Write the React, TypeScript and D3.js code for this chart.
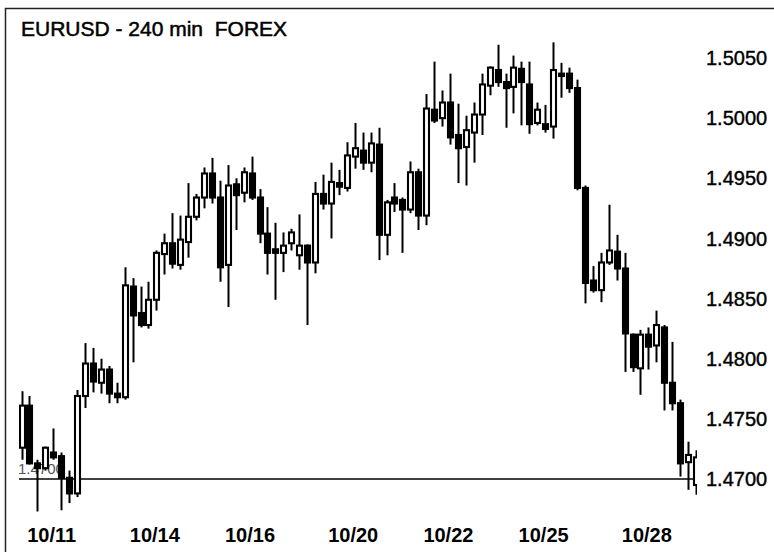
import React from "react";
import * as d3 from "d3";

const title = "EURUSD - 240 min  FOREX";

const opens = [
  1.4726, 1.4761, 1.4713, 1.4709, 1.4722, 1.4719, 1.4701, 1.4688, 1.4769, 1.4796,
  1.4780, 1.4791, 1.4771, 1.4768, 1.4860, 1.4838, 1.4828, 1.4849, 1.4887, 1.4896,
  1.4878, 1.4897, 1.4918, 1.4934, 1.4954, 1.4934, 1.4878, 1.4945, 1.4938, 1.4954,
  1.4934, 1.4904, 1.4891, 1.4888, 1.4896, 1.4886, 1.4894, 1.4880, 1.4937, 1.4929,
  1.4946, 1.4942, 1.4968, 1.4973, 1.4963, 1.4978, 1.4903, 1.4934, 1.4932, 1.4924,
  1.4955, 1.4919, 1.5007, 1.5000, 1.5013, 1.4986, 1.4976, 1.4988, 1.5003, 1.5027,
  1.5040, 1.5030, 1.5026, 1.5041, 1.5028, 1.4996, 1.4995, 1.4993, 1.5037, 1.5037,
  1.5025, 1.4942, 1.4865, 1.4857, 1.4880, 1.4889, 1.4875, 1.4820, 1.4792, 1.4820,
  1.4811, 1.4826, 1.4780, 1.4763, 1.4714, 1.4695,
];
const highs = [
  1.4773, 1.4769, 1.4716, 1.4727, 1.4742, 1.4722, 1.4707, 1.4774, 1.4813, 1.4809,
  1.4800, 1.4794, 1.4780, 1.4876, 1.4867, 1.4860, 1.4864, 1.4890, 1.4904, 1.4921,
  1.4919, 1.4946, 1.4937, 1.4959, 1.4967, 1.4948, 1.4961, 1.4950, 1.4959, 1.4968,
  1.4941, 1.4926, 1.4913, 1.4905, 1.4908, 1.4920, 1.4895, 1.4947, 1.4953, 1.4963,
  1.4957, 1.4980, 1.4996, 1.4988, 1.4988, 1.4992, 1.4932, 1.4946, 1.4934, 1.4964,
  1.4958, 1.5020, 1.5047, 1.5023, 1.5037, 1.5012, 1.5002, 1.5013, 1.5037, 1.5043,
  1.5061, 1.5037, 1.5052, 1.5047, 1.5047, 1.5013, 1.5011, 1.5063, 1.5046, 1.5042,
  1.5032, 1.4944, 1.4877, 1.4888, 1.4928, 1.4903, 1.4888, 1.4821, 1.4824, 1.4826,
  1.4840, 1.4828, 1.4814, 1.4766, 1.4731, 1.4724,
];
const lows = [
  1.4716, 1.4712, 1.4673, 1.4707, 1.4716, 1.4674, 1.4680, 1.4685, 1.4759, 1.4772,
  1.4771, 1.4763, 1.4763, 1.4766, 1.4797, 1.4826, 1.4825, 1.4840, 1.4870, 1.4875,
  1.4874, 1.4884, 1.4915, 1.4925, 1.4929, 1.4864, 1.4843, 1.4907, 1.4930, 1.4932,
  1.4896, 1.4870, 1.4849, 1.4872, 1.4890, 1.4874, 1.4828, 1.4871, 1.4924, 1.4900,
  1.4936, 1.4939, 1.4958, 1.4957, 1.4955, 1.4882, 1.4886, 1.4922, 1.4888, 1.4921,
  1.4907, 1.4911, 1.4996, 1.4993, 1.4978, 1.4946, 1.4944, 1.4963, 1.4986, 1.5019,
  1.5026, 1.4992, 1.5004, 1.4994, 1.4987, 1.4994, 1.4988, 1.4983, 1.5017, 1.5021,
  1.4940, 1.4846, 1.4855, 1.4847, 1.4878, 1.4865, 1.4789, 1.4789, 1.4770, 1.4791,
  1.4797, 1.4757, 1.4757, 1.4702, 1.4691, 1.4687,
];
const closes = [
  1.4761, 1.4713, 1.4709, 1.4726, 1.4718, 1.4701, 1.4688, 1.4769, 1.4796, 1.4781,
  1.4791, 1.4771, 1.4768, 1.4861, 1.4836, 1.4828, 1.4849, 1.4888, 1.4896, 1.4879,
  1.4899, 1.4918, 1.4934, 1.4954, 1.4934, 1.4876, 1.4944, 1.4936, 1.4955, 1.4934,
  1.4904, 1.4888, 1.4888, 1.4894, 1.4905, 1.4894, 1.4880, 1.4937, 1.4929, 1.4947,
  1.4943, 1.4969, 1.4975, 1.4963, 1.4979, 1.4903, 1.4930, 1.4929, 1.4924, 1.4955,
  1.4919, 1.5008, 1.4998, 1.5013, 1.4984, 1.4975, 1.4990, 1.5003, 1.5028, 1.5042,
  1.5030, 1.5025, 1.5042, 1.5030, 1.4995, 1.5007, 1.4991, 1.5040, 1.5035, 1.5025,
  1.4942, 1.4863, 1.4857, 1.4880, 1.4890, 1.4875, 1.4821, 1.4793, 1.4820, 1.4810,
  1.4828, 1.4780, 1.4763, 1.4713, 1.4720, 1.4718,
];

const dateLabels = ["10/11", "10/14", "10/16", "10/20", "10/22", "10/25", "10/28"];
const dateLabelIdx = [3.8, 16.8, 28.8, 41.8, 53.8, 65.8, 78.8];
const priceTicks = [1.505, 1.5, 1.495, 1.49, 1.485, 1.48, 1.475, 1.47];
const linePrice = 1.47;

export default function App() {
  const W = 774;
  const H = 552;
  const x = d3.scaleLinear().domain([0, opens.length - 1]).range([21.5, 696]);
  const y = d3.scaleLinear().domain([1.47, 1.505]).range([479, 58]);
  const fmt = d3.format(".4f");
  const bw = 5;
  const font = "'Liberation Sans', Arial, Helvetica, sans-serif";

  return (
    <svg
      width={W}
      height={H}
      style={{ position: "fixed", left: 0, top: 0, background: "#fff" }}
      fontFamily={font}
    >
      <rect x={0} y={0} width={W} height={H} fill="#fff" />
      <path d={`M5.5,${H + 5}V8.5H${W + 5}`} fill="none" stroke="#222" strokeWidth={1.5} />
      <text
        x={21}
        y={36}
        fontSize={21}
        fill="#000"
        stroke="#000"
        strokeWidth={0.5}
        style={{ whiteSpace: "pre" }}
        xmlSpace="preserve"
      >
        {title}
      </text>
      <defs>
        <clipPath id="plotClip">
          <rect x={19} y={10} width={678} height={520} />
        </clipPath>
      </defs>
      <g clipPath="url(#plotClip)">
        <text x={18} y={474} fontSize={15} fill="#555">
          {fmt(linePrice)}
        </text>
        <line
          x1={19}
          x2={695}
          y1={y(linePrice)}
          y2={y(linePrice)}
          stroke="#000"
          strokeWidth={1.6}
        />
        {opens.map((o, i) => {
          const c = closes[i];
          const up = c >= o;
          const cx = Math.round(x(i)) + 0.5;
          const top = y(Math.max(o, c));
          const bot = y(Math.min(o, c));
          return (
            <g key={i}>
              <line
                x1={cx}
                x2={cx}
                y1={y(highs[i])}
                y2={y(lows[i])}
                stroke="#000"
                strokeWidth={2}
              />
              <rect
                x={cx - bw / 2}
                y={top}
                width={bw}
                height={Math.max(1, bot - top)}
                fill={up ? "#fff" : "#000"}
                stroke="#000"
                strokeWidth={2.1}
              />
            </g>
          );
        })}
      </g>
      {priceTicks.map((v) => (
        <text
          key={v}
          x={706}
          y={y(v)}
          dy="0.36em"
          fontSize={20}
          fill="#000"
          stroke="#000"
          strokeWidth={0.4}
        >
          {fmt(v)}
        </text>
      ))}
      {dateLabels.map((d, i) => (
        <text
          key={d}
          x={x(dateLabelIdx[i])}
          y={542}
          textAnchor="middle"
          fontSize={20}
          fontWeight="bold"
          fill="#000"
        >
          {d}
        </text>
      ))}
    </svg>
  );
}
